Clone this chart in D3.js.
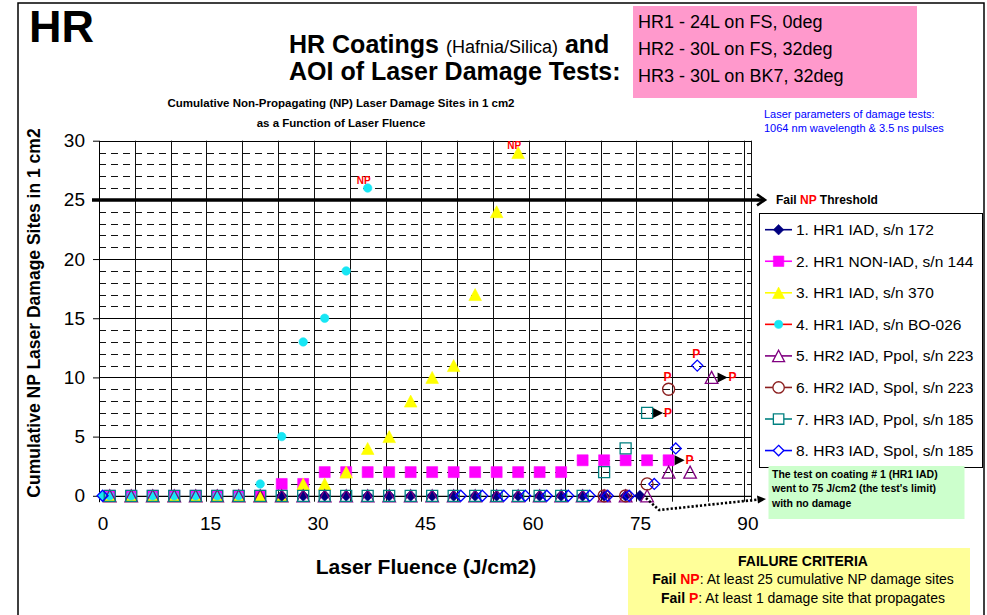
<!DOCTYPE html>
<html>
<head>
<meta charset="utf-8">
<script src="https://cdn.jsdelivr.net/npm/d3@7"></script>
<style>
  html, body { margin: 0; padding: 0; background: #fff; }
  svg { display: block; }
  text { font-family: "Liberation Sans", Arial, Helvetica, sans-serif; }
</style>
</head>
<body>
<svg id="chart" width="987" height="615"></svg>
<script>
// ---------------- data ----------------
const seriesNames = [
  "1. HR1 IAD, s/n 172",
  "2. HR1 NON-IAD, s/n 144",
  "3. HR1 IAD, s/n 370",
  "4. HR1 IAD, s/n BO-026",
  "5. HR2 IAD, Ppol, s/n 223",
  "6. HR2 IAD, Spol, s/n 223",
  "7. HR3 IAD, Ppol, s/n 185",
  "8. HR3 IAD, Spol, s/n 185"
];

// fluence (J/cm2) and cumulative NP damage sites, one pair of arrays per coating
const s1Fluence = [25, 28, 31, 34, 37, 40, 43, 46, 49, 52, 55, 58, 61, 64, 67, 70, 73, 75];
const s1Sites   = [0, 0, 0, 0, 0, 0, 0, 0, 0, 0, 0, 0, 0, 0, 0, 0, 0, 0];

const s2Fluence = [1, 4, 7, 10, 13, 16, 19, 22, 25, 28, 31, 34, 37, 40, 43, 46, 49, 52, 55, 58, 61, 64, 67, 70, 73, 76, 79];
const s2Sites   = [0, 0, 0, 0, 0, 0, 0, 0, 1, 1, 2, 2, 2, 2, 2, 2, 2, 2, 2, 2, 2, 2, 3, 3, 3, 3, 3];

const s3Fluence = [1, 4, 7, 10, 13, 16, 19, 22, 25, 28, 31, 34, 37, 40, 43, 46, 49, 52, 55, 58];
const s3Sites   = [0, 0, 0, 0, 0, 0, 0, 0, 0, 1, 1, 2, 4, 5, 8, 10, 11, 17, 24, 29];

const s4Fluence = [0, 1, 4, 7, 10, 13, 16, 19, 22, 25, 28, 31, 34, 37];
const s4Sites   = [0, 0, 0, 0, 0, 0, 0, 0, 1, 5, 13, 15, 19, 26];

const s5Fluence = [1, 4, 7, 10, 13, 16, 19, 22, 25, 28, 31, 34, 37, 40, 43, 46, 49, 52, 55, 58, 61, 64, 67, 70, 73, 76, 79, 82, 85];
const s5Sites   = [0, 0, 0, 0, 0, 0, 0, 0, 0, 0, 0, 0, 0, 0, 0, 0, 0, 0, 0, 0, 0, 0, 0, 0, 0, 0, 2, 2, 10];

const s6Fluence = [70, 73, 76, 79];
const s6Sites   = [0, 0, 1, 9];

const s7Fluence = [1, 4, 7, 10, 13, 16, 19, 22, 25, 28, 31, 34, 37, 40, 43, 46, 49, 52, 55, 58, 61, 64, 67, 70, 73, 76];
const s7Sites   = [0, 0, 0, 0, 0, 0, 0, 0, 0, 0, 0, 0, 0, 0, 0, 0, 0, 0, 0, 0, 0, 0, 0, 2, 4, 7];

const s8Fluence = [0, 50, 53, 56, 59, 62, 65, 68, 70.5, 73.5, 77, 80, 83];
const s8Sites   = [0, 0, 0, 0, 0, 0, 0, 0, 0, 0, 1, 4, 11];

// failure markers: series index (0-based) and the point they flag
const npFailSeries  = [3, 2];
const npFailFluence = [37, 58];
const npFailSites   = [26, 29];

const pAboveSeries  = [5, 7];           // "P" written above the point
const pAboveFluence = [79, 83];
const pAboveSites   = [9, 11];

const pArrowSeries  = [1, 6, 4];        // arrow + "P" to the right of the point
const pArrowFluence = [79, 76, 85];
const pArrowSites   = [3, 7, 10];

const thresholdSites = 25;

const xTickValues = [0, 15, 30, 45, 60, 75, 90];
const yTickValues = [0, 5, 10, 15, 20, 25, 30];

const coatingLines = ["HR1 - 24L on FS, 0deg", "HR2 - 30L on FS, 32deg", "HR3 - 30L on BK7, 32deg"];
const laserLines = ["Laser parameters of damage tests:", "1064 nm wavelength & 3.5 ns pulses"];
const noteLines = ["The test on coating # 1 (HR1 IAD)", "went to 75 J/cm2 (the test's limit)", "with no damage"];

// ---------------- setup ----------------
const fluences = [s1Fluence, s2Fluence, s3Fluence, s4Fluence, s5Fluence, s6Fluence, s7Fluence, s8Fluence];
const sites    = [s1Sites, s2Sites, s3Sites, s4Sites, s5Sites, s6Sites, s7Sites, s8Sites];
const series = seriesNames.map((name, i) => ({
  name, points: fluences[i].map((f, j) => ({ f, n: sites[i][j] }))
}));

const styles = [
  { mark: "#000080", line: "#000080", shape: "diamond",  filled: true,  size: 11 },
  { mark: "#FF00FF", line: "#FF00FF", shape: "square",   filled: true,  size: 11 },
  { mark: "#FFFF00", line: "#FFFF00", shape: "triangle", filled: true,  size: 12 },
  { mark: "#17E6F4", line: "#FF0000", shape: "circle",   filled: true,  size: 8.5 },
  { mark: "#800080", line: "#800080", shape: "triangle", filled: false, size: 12 },
  { mark: "#8B1E1E", line: "#8B1E1E", shape: "circle",   filled: false, size: 12 },
  { mark: "#008080", line: "#008080", shape: "square",   filled: false, size: 11 },
  { mark: "#0000FF", line: "#0000FF", shape: "diamond",  filled: false, size: 11 }
];

function markerPath(shape, s) {
  const r = s / 2;
  switch (shape) {
    case "diamond":  return `M0,${-r}L${r},0L0,${r}L${-r},0Z`;
    case "square":   return `M${-r},${-r}h${s}v${s}h${-s}Z`;
    case "triangle": return `M0,${-r}L${r * 1.05},${r}L${-r * 1.05},${r}Z`;
    default:         return `M${r},0A${r},${r} 0 1,1 ${-r},0A${r},${r} 0 1,1 ${r},0Z`;
  }
}

const svg = d3.select("#chart");
const x = d3.scaleLinear().domain([-0.5, 90.5]).range([99, 751]);
const y = d3.scaleLinear().domain([-0.5, 30]).range([501.7, 140.7]);

// outer frame
svg.append("rect").attr("x", 18).attr("y", 3).attr("width", 966).attr("height", 640)
  .attr("fill", "none").attr("stroke", "#000").attr("stroke-width", 1.5);

// ---------------- gridlines ----------------
const grid = svg.append("g");
const [x0, x1] = x.range();
const [yb, yt] = y.range();

// minor (dashed) horizontal lines at every site count
grid.selectAll("line.minor")
  .data(d3.range(1, 30).filter(v => v % 5 !== 0))
  .join("line")
  .attr("x1", x0).attr("x2", x1)
  .attr("y1", d => Math.round(y(d)) + 0.5).attr("y2", d => Math.round(y(d)) + 0.5)
  .attr("stroke", "#111").attr("stroke-width", 1).attr("stroke-dasharray", "7,5");

// major horizontal lines
grid.selectAll("line.major")
  .data([5, 10, 15, 20, 30])
  .join("line")
  .attr("x1", x0).attr("x2", x1)
  .attr("y1", d => Math.round(y(d)) + 0.5).attr("y2", d => Math.round(y(d)) + 0.5)
  .attr("stroke", "#000").attr("stroke-width", 1);

// vertical lines every 5 J/cm2 from the axis origin, plus the right edge
grid.selectAll("line.v")
  .data(d3.range(-0.5, 90, 5).concat([90.5]))
  .join("line")
  .attr("x1", d => Math.round(x(d)) + 0.5).attr("x2", d => Math.round(x(d)) + 0.5)
  .attr("y1", yt).attr("y2", yb)
  .attr("stroke", "#111").attr("stroke-width", 1);

// ---------------- axes ----------------
const yAxis = svg.append("g").attr("transform", `translate(${x0},0)`)
  .call(d3.axisLeft(y).tickValues(yTickValues).tickSize(6).tickSizeOuter(0).tickPadding(8));
yAxis.select(".domain").attr("stroke", "#000");
yAxis.selectAll(".tick line").attr("stroke", "#000");
yAxis.selectAll("text").attr("font-size", 19).attr("fill", "#000")
  .attr("font-family", "Liberation Sans, Arial, sans-serif");

const xAxis = svg.append("g").attr("transform", `translate(0,${y(0)})`)
  .call(d3.axisBottom(x).tickValues(xTickValues).tickSize(0).tickSizeOuter(0).tickPadding(21));
xAxis.select(".domain").attr("stroke", "#000").attr("stroke-width", 1.2);
xAxis.selectAll("text").attr("font-size", 19).attr("fill", "#000")
  .attr("font-family", "Liberation Sans, Arial, sans-serif");

// axis titles
svg.append("text").attr("x", 426).attr("y", 574).attr("text-anchor", "middle")
  .attr("font-size", 21).attr("font-weight", "bold").text("Laser Fluence (J/cm2)");
svg.append("text").attr("transform", "translate(40,313) rotate(-90)").attr("text-anchor", "middle")
  .attr("font-size", 17.5).attr("font-weight", "bold").text("Cumulative NP Laser Damage Sites in 1 cm2");

// ---------------- NP threshold ----------------
const yThr = y(thresholdSites);
svg.append("line").attr("x1", 92).attr("x2", 764).attr("y1", yThr).attr("y2", yThr)
  .attr("stroke", "#000").attr("stroke-width", 3.5);
svg.append("path").attr("d", `M757,${yThr - 5.5}L765,${yThr}L757,${yThr + 5.5}`)
  .attr("fill", "none").attr("stroke", "#000").attr("stroke-width", 2.5);
const thr = svg.append("text").attr("x", 776).attr("y", yThr + 4.5)
  .attr("font-size", 12).attr("font-weight", "bold");
thr.append("tspan").text("Fail ");
thr.append("tspan").attr("fill", "#FF0000").text("NP");
thr.append("tspan").text(" Threshold");

// ---------------- markers ----------------
const drawOrder = [1, 2, 3, 0, 4, 5, 6, 7];
const marks = svg.append("g");
drawOrder.forEach(i => {
  const st = styles[i];
  marks.append("g").selectAll("path")
    .data(series[i].points)
    .join("path")
    .attr("transform", d => `translate(${x(d.f)},${y(d.n)})`)
    .attr("d", markerPath(st.shape, st.size))
    .attr("fill", st.filled ? st.mark : "none")
    .attr("stroke", st.mark)
    .attr("stroke-width", st.filled ? 0.6 : 1.3);
});

// NP failure labels
npFailSeries.forEach((s, k) => {
  svg.append("text")
    .attr("x", x(npFailFluence[k]) - 4).attr("y", y(npFailSites[k]) - 4)
    .attr("text-anchor", "middle").attr("font-size", 10).attr("font-weight", "bold")
    .attr("fill", "#FF0000").text("NP");
});

// P failure labels above the point
pAboveSeries.forEach((s, k) => {
  svg.append("text")
    .attr("x", x(pAboveFluence[k]) - 1).attr("y", y(pAboveSites[k]) - 8)
    .attr("text-anchor", "middle").attr("font-size", 12).attr("font-weight", "bold")
    .attr("fill", "#FF0000").text("P");
});

// P failure labels with arrow to the right of the point
pArrowSeries.forEach((s, k) => {
  const px = x(pArrowFluence[k]), py = y(pArrowSites[k]);
  svg.append("path").attr("d", `M${px + 6},${py - 5}L${px + 16},${py}L${px + 6},${py + 5}Z`)
    .attr("fill", "#000");
  svg.append("text").attr("x", px + 17).attr("y", py + 4)
    .attr("font-size", 12).attr("font-weight", "bold").attr("fill", "#FF0000").text("P");
});

// ---------------- legend ----------------
const lg = svg.append("g");
lg.append("rect").attr("x", 759.5).attr("y", 213.5).attr("width", 223).attr("height", 254)
  .attr("fill", "#fff").attr("stroke", "#000").attr("stroke-width", 1);
series.forEach((s, i) => {
  const st = styles[i];
  const ry = 229.7 + i * 31.55;
  lg.append("line").attr("x1", 765).attr("x2", 792).attr("y1", ry).attr("y2", ry)
    .attr("stroke", st.line).attr("stroke-width", 1.6);
  lg.append("path").attr("transform", `translate(778.6,${ry})`)
    .attr("d", markerPath(st.shape, st.size * 0.95))
    .attr("fill", st.filled ? st.mark : "#fff")
    .attr("stroke", st.mark).attr("stroke-width", st.filled ? 0.6 : 1.3);
  lg.append("text").attr("x", 796).attr("y", ry + 5.5).attr("font-size", 15.5)
    .attr("fill", "#000").text(s.name);
});

// ---------------- note about coating #1 ----------------
svg.append("rect").attr("x", 768.5).attr("y", 466).attr("width", 196).attr("height", 53)
  .attr("fill", "#CCFFCC");
noteLines.forEach((t, i) => {
  svg.append("text").attr("x", 772).attr("y", 478 + i * 14.3)
    .attr("font-size", 10.5).attr("font-weight", "bold").text(t);
});
svg.append("path").attr("d", "M646,498L659,510L759,499.5")
  .attr("fill", "none").attr("stroke", "#000").attr("stroke-width", 2.6)
  .attr("stroke-dasharray", "2.2,2");
svg.append("path").attr("d", "M757,495.5L766,499L758,503.5Z").attr("fill", "#000");

// ---------------- titles ----------------
svg.append("text").attr("x", 29).attr("y", 42).attr("font-size", 45).attr("font-weight", "bold").text("HR");

const t1 = svg.append("text").attr("x", 289).attr("y", 53);
t1.append("tspan").attr("font-size", 25).attr("font-weight", "bold").text("HR Coatings ");
t1.append("tspan").attr("font-size", 18).text("(Hafnia/Silica)");
t1.append("tspan").attr("font-size", 25).attr("font-weight", "bold").text(" and");
svg.append("text").attr("x", 289).attr("y", 80).attr("font-size", 25).attr("font-weight", "bold")
  .text("AOI of Laser Damage Tests:");

svg.append("text").attr("x", 341).attr("y", 107).attr("text-anchor", "middle")
  .attr("font-size", 11.5).attr("font-weight", "bold")
  .text("Cumulative Non-Propagating (NP) Laser Damage Sites in 1 cm2");
svg.append("text").attr("x", 341).attr("y", 127).attr("text-anchor", "middle")
  .attr("font-size", 11.5).attr("font-weight", "bold")
  .text("as a Function of Laser Fluence");

// coating key
svg.append("rect").attr("x", 633).attr("y", 6).attr("width", 284).attr("height", 92).attr("fill", "#FF99CC");
coatingLines.forEach((t, i) => {
  svg.append("text").attr("x", 638).attr("y", 27.5 + i * 27.3).attr("font-size", 18).text(t);
});

// laser parameters
laserLines.forEach((t, i) => {
  svg.append("text").attr("x", 764).attr("y", 118 + i * 13.5).attr("font-size", 11)
    .attr("fill", "#0000FF").text(t);
});

// ---------------- failure criteria ----------------
svg.append("rect").attr("x", 628).attr("y", 548).attr("width", 342).attr("height", 70).attr("fill", "#FFFF99");
svg.append("text").attr("x", 803).attr("y", 566).attr("text-anchor", "middle")
  .attr("font-size", 14).attr("font-weight", "bold").text("FAILURE CRITERIA");
const fc1 = svg.append("text").attr("x", 803).attr("y", 584).attr("text-anchor", "middle").attr("font-size", 14);
fc1.append("tspan").attr("font-weight", "bold").text("Fail ");
fc1.append("tspan").attr("font-weight", "bold").attr("fill", "#FF0000").text("NP");
fc1.append("tspan").text(": At least 25 cumulative NP damage sites");
const fc2 = svg.append("text").attr("x", 803).attr("y", 603).attr("text-anchor", "middle").attr("font-size", 14);
fc2.append("tspan").attr("font-weight", "bold").text("Fail ");
fc2.append("tspan").attr("font-weight", "bold").attr("fill", "#FF0000").text("P");
fc2.append("tspan").text(": At least 1 damage site that propagates");
</script>
</body>
</html>
